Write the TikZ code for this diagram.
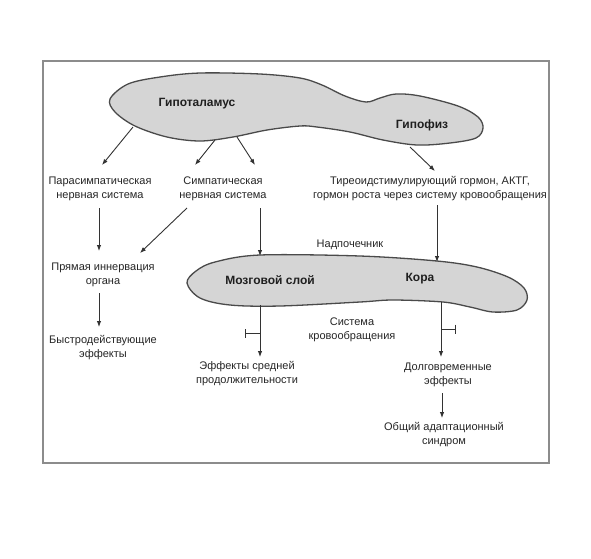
\documentclass[tikz,border=0pt]{standalone}
\usepackage{fontspec}
\setmainfont{Liberation Sans}
\usetikzlibrary{arrows.meta}
\definecolor{txt}{HTML}{262626}
\definecolor{blobfill}{HTML}{D5D5D5}
\definecolor{blobline}{HTML}{4A4A4A}
\definecolor{framec}{HTML}{8C8C8C}
\definecolor{arrc}{HTML}{333333}
\tikzset{
  lbl/.style={text=txt, align=center, font=\fontsize{11}{14}\selectfont, inner sep=0pt},
  blbl/.style={text=black!88, font=\bfseries\fontsize{12}{14}\selectfont, inner sep=0pt},
  blob/.style={draw=blobline, fill=blobfill, line width=1.3pt},
  arr/.style={draw=arrc, line width=0.9pt, -{Latex[length=6pt,width=4.5pt]}},
  teeline/.style={draw=arrc, line width=0.9pt, {Bar[width=9pt,line width=1.2pt]}-},
}
\begin{document}
\begin{tikzpicture}[x=1pt, y=-1pt]
\useasboundingbox (0,0) rectangle (591,558);
\fill[white] (0,0) rectangle (591,558);
\draw[framec, line width=1.6pt] (43,61) rectangle (549,463);

% hypothalamus + pituitary
\draw[blob] plot[smooth cycle, tension=0.55] coordinates {
 (110,99) (128,84) (160,77) (200,73) (260,74) (300,78) (322,85) (345,96)
 (366,102) (380,98) (396,94) (420,96) (458,106) (478,117) (483,128)
 (476,138) (450,143) (417,145) (383,140) (350,132) (317,127) (300,126)
 (267,130) (233,137) (200,141) (167,137) (135,126) (115,112)};
\node[blbl] (hypo) at (197,104) {Гипоталамус};
\node[blbl] (pit) at (422,125) {Гипофиз};

% adrenal
\draw[blob] plot[smooth cycle, tension=0.55] coordinates {
 (187,283) (196,271) (215,262) (260,255) (360,256) (437,261) (477,267)
 (508,277) (524,288) (527,300) (517,310) (493,312) (470,307) (443,302)
 (393,300) (360,302) (280,306) (230,305) (200,298)};
\node[blbl] (med) at (270,280) {Мозговой слой};
\node[blbl] (cor) at (420,279) {Кора};

% labels
\node[lbl] (para) at (100,188.5) {Парасимпатическая\\нервная система};
\node[lbl] (symp) at (223,188.5) {Симпатическая\\нервная система};
\node[lbl] (tsh) at (430,189) {Тиреоидстимулирующий гормон, АКТГ,\\гормон роста через систему кровообращения};
\node[lbl] (nadp) at (350,245) {Надпочечник};
\node[lbl] (innerv) at (103,274.5) {Прямая иннервация\\органа};
\node[lbl] (fast) at (103,347.5) {Быстродействующие\\эффекты};
\node[lbl] (mid) at (247,374) {Эффекты средней\\продолжительности};
\node[lbl] (blood) at (352,329.5) {Система\\кровообращения};
\node[lbl] (long) at (448,375) {Долговременные\\эффекты};
\node[lbl] (gas) at (444,435) {Общий адаптационный\\синдром};

% connector end points
\coordinate (h1) at (133,127); \coordinate (p1) at (102,165);
\coordinate (h2) at (215,140); \coordinate (s1) at (195,165);
\coordinate (h3) at (237,137); \coordinate (s2) at (255,165);
\coordinate (g1) at (410,147); \coordinate (t1) at (435,171);
\coordinate (pa) at (99,208);  \coordinate (ia) at (99,251);
\coordinate (sa) at (187,208); \coordinate (ib) at (140,253);
\coordinate (sb) at (260,208); \coordinate (mt) at (260,256);
\coordinate (ta) at (437,205); \coordinate (ct) at (437,262);
\coordinate (ic) at (99,293);  \coordinate (fa) at (99,327);
\coordinate (mb) at (260,305); \coordinate (ma) at (260,357);
\coordinate (cb) at (441,302); \coordinate (la) at (441,357);
\coordinate (lb) at (442,393); \coordinate (ga) at (442,418);
\coordinate (tm0) at (245,333); \coordinate (tm1) at (260,333);
\coordinate (tc0) at (456,329); \coordinate (tc1) at (441,329);

\draw[arr] (h1) -- (p1);
\draw[arr] (h2) -- (s1);
\draw[arr] (h3) -- (s2);
\draw[arr] (g1) -- (t1);
\draw[arr] (pa) -- (ia);
\draw[arr] (sa) -- (ib);
\draw[arr] (sb) -- (mt);
\draw[arr] (ta) -- (ct);
\draw[arr] (ic) -- (fa);
\draw[arr] (mb) -- (ma);
\draw[arr] (cb) -- (la);
\draw[arr] (lb) -- (ga);
\draw[teeline] (tm0) -- (tm1);
\draw[teeline] (tc0) -- (tc1);
\end{tikzpicture}
\end{document}
